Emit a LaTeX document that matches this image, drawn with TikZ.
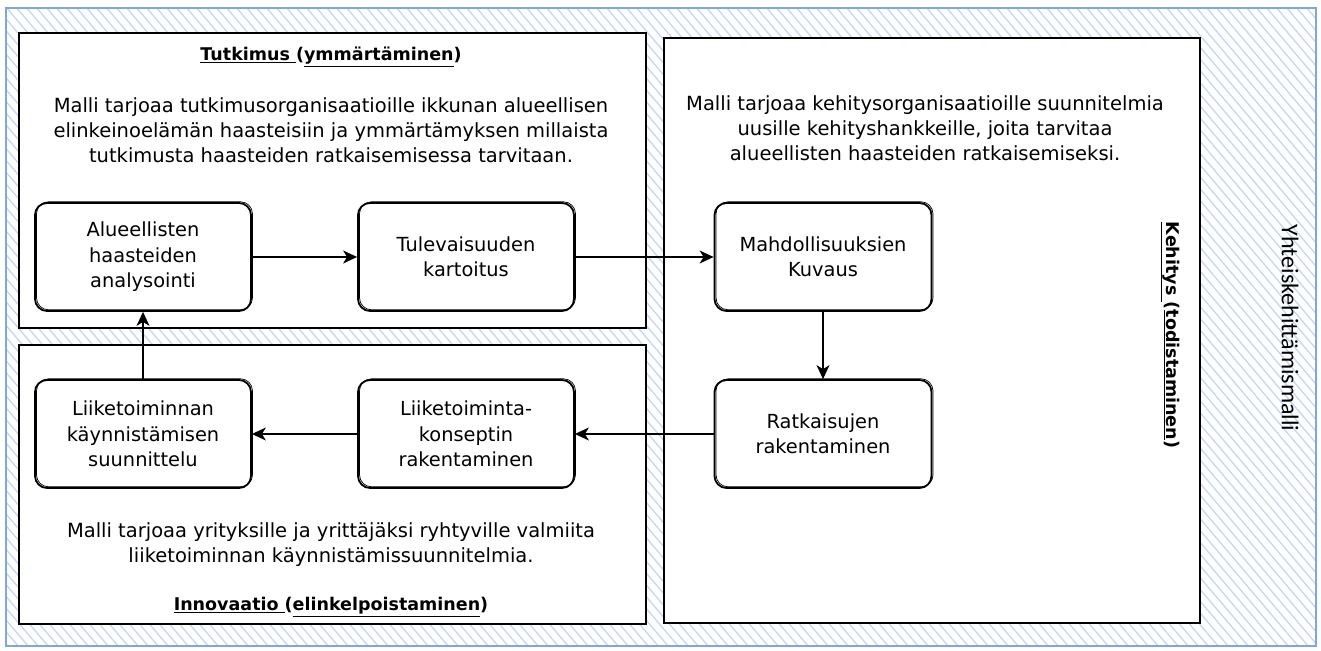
\documentclass[tikz,border=0pt]{standalone}
\usepackage{fontspec}
\setmainfont{DejaVu Sans}
\newfontfamily\calfont{Carlito}
\usetikzlibrary{arrows.meta}
\definecolor{framecol}{HTML}{7EA6E0}
\definecolor{hatchcol}{HTML}{C6D6F2}
\begin{document}
\begin{tikzpicture}[x=1pt,y=-1pt,
  proc/.style={draw, line width=1.8pt, rounded corners=12pt, minimum width=216pt, minimum height=108pt, align=center, fill=white, font=\fontsize{19.4}{25.5}\selectfont,
    postaction={draw, line width=0.7pt, transform canvas={shift={(1.5pt,1.2pt)}}}},
  lane/.style={draw, line width=2.4pt, fill=white, anchor=north west, inner sep=0pt},
  flow/.style={line width=1.2pt, -{Stealth[length=14pt,width=13pt,inset=4pt]}},
  para/.style={align=center, font=\fontsize{19.5}{25}\selectfont},
  ttl/.style={font=\bfseries\fontsize{17.5}{22}\selectfont},
  hatch/.style={draw=hatchcol, line width=1.3pt}
]
\useasboundingbox (0,0) rectangle (1321,650);
\fill[white] (0,0) rectangle (1321,650);
\begin{scope}
  \clip (6,8) rectangle (1316,646);
  \foreach \i in {-660,-650,...,1320} \draw[hatch] (\i,0) -- ++(560,660);
\end{scope}
\draw[framecol, line width=1.5pt] (6,8) rectangle (1316,646);

% lanes
\node[lane, minimum width=627pt, minimum height=295pt] (tut) at (18,32) {};
\node[lane, minimum width=627pt, minimum height=279pt] (inn) at (18,344) {};
\node[lane, minimum width=536pt, minimum height=585pt] (keh) at (663,37) {};

% lane texts
\node[ttl] (tutt) at (331,57) {\underline{Tutkimus\ }(\underline{ymmärtäminen})};
\node[para] (tutp) at (331,130) {Malli tarjoaa tutkimusorganisaatioille ikkunan alueellisen\\ elinkeinoelämän haasteisiin ja ymmärtämyksen millaista\\ tutkimusta haasteiden ratkaisemisessa tarvitaan.};
\node[para] (kehp) at (925,128) {Malli tarjoaa kehitysorganisaatioille suunnitelmia\\ uusille kehityshankkeille, joita tarvitaa\\ alueellisten haasteiden ratkaisemiseksi.};
\node[para] (innp) at (331,545) {Malli tarjoaa yrityksille ja yrittäjäksi ryhtyville valmiita\\ liiketoiminnan käynnistämissuunnitelmia.};
\node[ttl] (innt) at (331,607) {\underline{Innovaatio\ }(\underline{elinkelpoistaminen})};
\node[ttl, rotate=-90] (keht) at (1170,335) {\underline{Kehitys\ }(\underline{todistaminen})};
\node[font=\calfont\fontsize{24}{28}\selectfont, rotate=-90] (ym) at (1290,328) {Yhteiskehittämismalli};

% process boxes
\node[proc] (A) at (143,257) {Alueellisten\\ haasteiden\\ analysointi};
\node[proc] (T) at (466,257) {Tulevaisuuden\\ kartoitus};
\node[proc, minimum width=217pt] (M) at (823,257) {Mahdollisuuksien\\ Kuvaus};
\node[proc, minimum width=217pt] (R) at (823,434) {Ratkaisujen\\ rakentaminen};
\node[proc] (L2) at (466,434) {Liiketoiminta-\\ konseptin\\ rakentaminen};
\node[proc] (L1) at (143,434) {Liiketoiminnan\\ käynnistämisen\\ suunnittelu};

% connectors
\draw[flow] (A) -- (T);
\draw[flow] (T) -- (M);
\draw[flow] (M) -- (R);
\draw[flow] (R) -- (L2);
\draw[flow] (L2) -- (L1);
\draw[flow] (L1) -- (A);
\end{tikzpicture}
\end{document}
